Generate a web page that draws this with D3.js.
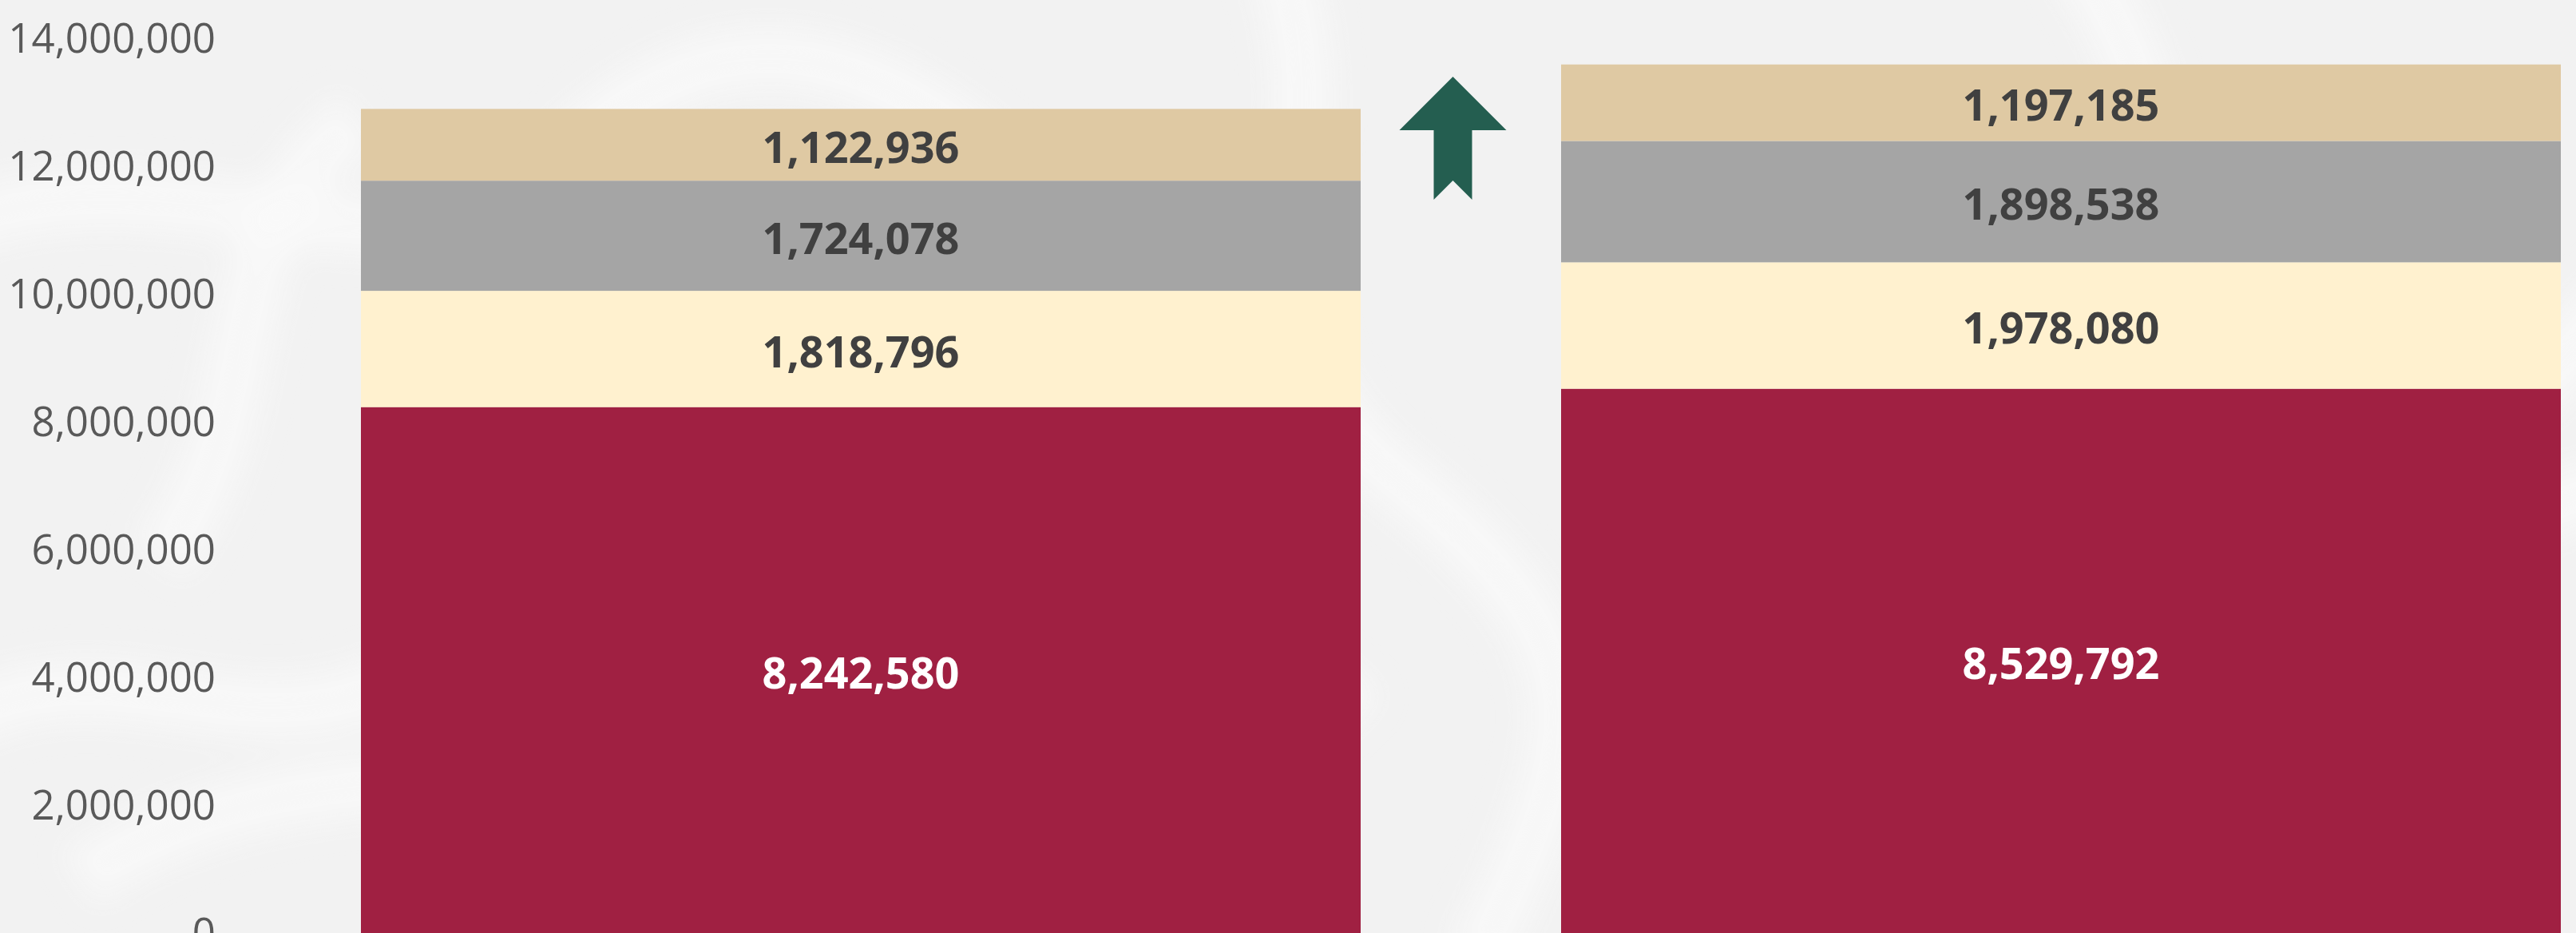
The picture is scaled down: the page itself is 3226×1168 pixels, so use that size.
<!DOCTYPE html>
<html>
<head>
<meta charset="utf-8">
<script src="https://cdn.jsdelivr.net/npm/d3@7"></script>
<style>
  html, body { margin: 0; padding: 0; background: #f3f3f3; }
  svg { display: block; }
</style>
</head>
<body>
<svg></svg>
<script>
// tamaño del lienzo
const width = 3226;
const height = 1168;

// datos
const categories = ["2018", "2019"];
const seriesNames = ["s1", "s2", "s3", "s4"];
const s1 = [8242580, 8529792];
const s2 = [1818796, 1978080];
const s3 = [1724078, 1898538];
const s4 = [1122936, 1197185];
const yTicks = [0, 2000000, 4000000, 6000000, 8000000, 10000000, 12000000, 14000000];

const colors = ["#a02042", "#fff1cf", "#a5a5a5", "#dfc9a3"];
const labelColors = ["#ffffff", "#404040", "#404040", "#404040"];

const svg = d3.select("svg")
  .attr("width", width)
  .attr("height", height);

// fondo con trazos suaves
const defs = svg.append("defs");
defs.append("filter").attr("id", "blur")
  .append("feGaussianBlur").attr("stdDeviation", 18);

svg.append("rect")
  .attr("width", width).attr("height", height)
  .attr("fill", "#f2f2f2");

const swirls = [
  "M-100,300 C200,150 500,400 700,200 S1100,50 1300,250",
  "M100,1100 C400,900 700,1050 1000,850 S1500,700 1700,900",
  "M1600,-50 C1700,200 1500,400 1750,600 S2000,900 1850,1200",
  "M2100,1000 C2400,800 2700,950 3000,750 S3300,600 3400,700",
  "M200,700 C350,500 250,300 450,150",
  "M2600,-50 C2750,150 2650,300 2900,450 S3150,500 3300,350",
  "M-50,900 C150,800 300,950 500,850"
];
svg.append("g")
  .attr("filter", "url(#blur)")
  .selectAll("path")
  .data(swirls)
  .enter()
  .append("path")
  .attr("d", d => d)
  .attr("fill", "none")
  .attr("stroke", "#f9f9f9")
  .attr("stroke-width", 80)
  .attr("opacity", 0.8);

// escalas
const x = d3.scaleBand()
  .domain(categories)
  .range([452, 3207])
  .paddingInner(0.167)
  .paddingOuter(0);

const y = d3.scaleLinear()
  .domain([0, 14000000])
  .range([1169, 49]);

// eje y
const yAxis = d3.axisLeft(y)
  .tickValues(yTicks)
  .tickSize(0)
  .tickPadding(10)
  .tickFormat(d3.format(","));

const axisG = svg.append("g")
  .attr("transform", "translate(280,0)")
  .call(yAxis);
axisG.select(".domain").remove();
axisG.selectAll("text")
  .attr("fill", "#595959")
  .style("font-family", "'Open Sans', sans-serif")
  .style("font-size", "51px");

// barras apiladas
const table = categories.map((c, i) => ({ cat: c, s1: s1[i], s2: s2[i], s3: s3[i], s4: s4[i] }));
const stack = d3.stack().keys(seriesNames)(table);

const layers = svg.selectAll("g.layer")
  .data(stack)
  .enter()
  .append("g")
  .attr("class", "layer")
  .attr("fill", (d, i) => colors[i]);

layers.selectAll("rect")
  .data(d => d)
  .enter()
  .append("rect")
  .attr("x", d => x(d.data.cat))
  .attr("y", d => y(d[1]))
  .attr("width", x.bandwidth())
  .attr("height", d => y(d[0]) - y(d[1]));

// etiquetas
const fmt = d3.format(",");
stack.forEach((layer, i) => {
  svg.append("g")
    .selectAll("text")
    .data(layer)
    .enter()
    .append("text")
    .attr("x", d => x(d.data.cat) + x.bandwidth() / 2)
    .attr("y", d => (y(d[0]) + y(d[1])) / 2)
    .attr("dy", "0.42em")
    .attr("text-anchor", "middle")
    .attr("fill", labelColors[i])
    .style("font-family", "'Open Sans', sans-serif")
    .style("font-weight", "bold")
    .style("font-size", "54px")
    .text(d => fmt(d[1] - d[0]));
});

// flecha de aumento
const gapMid = (x(categories[0]) + x.bandwidth() + x(categories[1])) / 2 - 10;
const arrowTop = y(14000000) + 47;
const arrow = svg.append("g")
  .attr("transform", `translate(${gapMid},${arrowTop})`);
arrow.append("path")
  .attr("d", "M0,0 L67,67 L24,67 L24,154 L0,130 L-24,154 L-24,67 L-67,67 Z")
  .attr("fill", "#245e50");
</script>
</body>
</html>
